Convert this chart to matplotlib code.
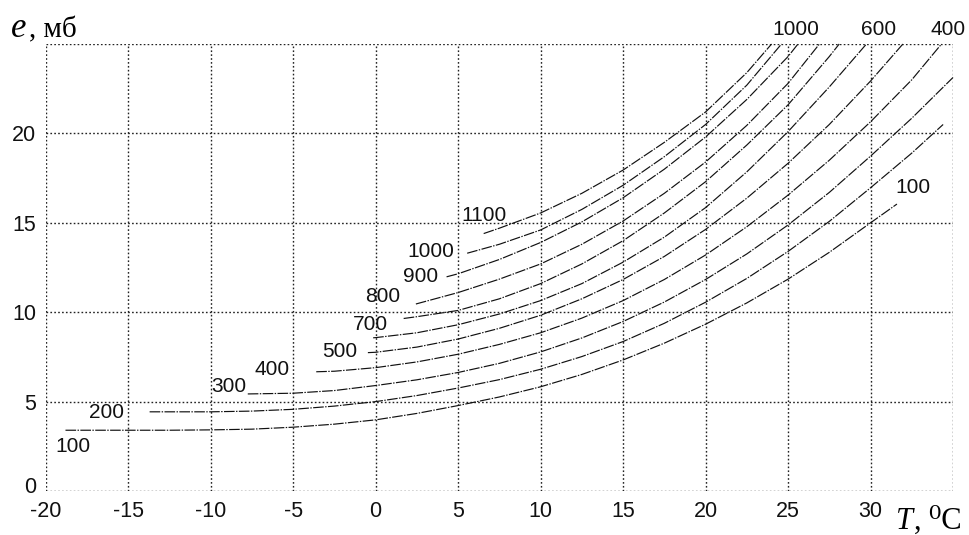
import numpy as np
import matplotlib
matplotlib.use("Agg")
import matplotlib.pyplot as plt
from matplotlib.transforms import ScaledTranslation

plt.rcParams["mathtext.fontset"] = "custom"
plt.rcParams["mathtext.it"] = "Liberation Serif:italic"
plt.rcParams["mathtext.rm"] = "Liberation Serif"

# curves e(T) for each level
levels = [100, 200, 300, 400, 500, 600, 700, 800, 900, 1000, 1100]
T_100 = [-18.8, -15, -12.5, -10, -7.5, -5, -2.5, 0, 2.5, 5, 7.5, 10, 12.5, 15,
         17.5, 20, 22.5, 25, 27.5, 30, 31.6]
e_100 = [3.40, 3.40, 3.40, 3.42, 3.46, 3.57, 3.74, 3.98, 4.34, 4.78, 5.26, 5.83,
         6.52, 7.33, 8.27, 9.33, 10.52, 11.85, 13.35, 15.0, 16.05]
T_200 = [-13.7, -12.5, -10, -7.5, -5, -2.5, 0, 2.5, 5, 7.5, 10, 12.5, 15, 17.5,
         20, 22.5, 25, 27.5, 30, 32.5, 34.4]
e_200 = [4.43, 4.43, 4.43, 4.47, 4.57, 4.75, 5.0, 5.34, 5.76, 6.23, 6.81, 7.52,
         8.36, 9.38, 10.56, 11.89, 13.4, 15.08, 16.96, 18.9, 20.5]
T_300 = [-7.75, -5, -2.5, 0, 2.5, 5, 7.5, 10, 12.5, 15, 17.5, 20, 22.5, 25,
         27.5, 30, 32.5, 35]
e_300 = [5.43, 5.47, 5.62, 5.9, 6.22, 6.63, 7.14, 7.78, 8.56, 9.48, 10.57, 11.83,
         13.26, 14.88, 16.7, 18.73, 20.85, 23.13]
T_400 = [-3.6, -2.5, 0, 2.5, 5, 7.5, 10, 12.5, 15, 17.5, 20, 22.5, 25, 27.5,
         30, 32.5, 34.3]
e_400 = [6.67, 6.70, 6.90, 7.22, 7.65, 8.20, 8.85, 9.67, 10.65, 11.83, 13.2,
         14.78, 16.55, 18.5, 20.65, 23.0, 25.0]
T_500 = [-0.47, 0, 2.5, 5, 7.5, 10, 12.5, 15, 17.5, 20, 22.5, 25, 27.5, 30, 31.96]
e_500 = [7.74, 7.76, 8.05, 8.5, 9.1, 9.83, 10.75, 11.83, 13.12, 14.63, 16.38,
         18.33, 20.5, 22.93, 25.0]
T_600 = [-0.15, 0, 2.5, 5, 7.5, 10, 12.5, 15, 17.5, 20, 22.5, 25, 27.5, 29.75]
e_600 = [8.57, 8.58, 8.85, 9.3, 9.9, 10.65, 11.6, 12.8, 14.2, 15.85, 17.85,
         20.1, 22.6, 25.0]
T_700 = [1.7, 2.5, 5, 7.5, 10, 12.5, 15, 17.5, 20, 22.5, 25, 27.5, 28.1]
e_700 = [9.65, 9.75, 10.1, 10.75, 11.6, 12.7, 14.0, 15.55, 17.3, 19.35, 21.6,
         24.3, 25.0]
T_800 = [2.44, 5, 7.5, 10, 12.5, 15, 17.5, 20, 22.5, 25, 26.9]
e_800 = [10.46, 11.1, 11.85, 12.7, 13.8, 15.1, 16.65, 18.4, 20.45, 22.8, 25.0]
T_900 = [4.3, 5, 7.5, 10, 12.5, 15, 17.5, 20, 22.5, 25, 25.6]
e_900 = [11.98, 12.15, 12.95, 13.9, 15.05, 16.4, 18.0, 19.8, 21.9, 24.3, 25.0]
T_1000 = [5.55, 7.5, 10, 12.5, 15, 17.5, 20, 22.5, 24.6]
e_1000 = [13.3, 13.8, 14.6, 15.75, 17.1, 18.7, 20.5, 22.7, 25.0]
T_1100 = [6.55, 7.5, 10, 12.5, 15, 17.5, 20, 22.5, 24.0]
e_1100 = [14.4, 14.7, 15.55, 16.65, 17.95, 19.5, 21.2, 23.4, 25.0]

curves_T = [T_100, T_200, T_300, T_400, T_500, T_600, T_700, T_800, T_900, T_1000, T_1100]
curves_e = [e_100, e_200, e_300, e_400, e_500, e_600, e_700, e_800, e_900, e_1000, e_1100]

# curve labels (text, T, e)
label_text = ["100", "200", "300", "400", "500", "700", "800", "900", "1000", "1100",
              "100", "1000", "600", "400"]
label_T = [-18.35, -16.3, -8.87, -6.3, -2.2, -0.3, 0.44, 2.74, 3.35, 6.56,
           32.6, 25.44, 30.48, 34.7]
label_e = [2.5, 4.39, 5.83, 6.78, 7.8, 9.32, 10.9, 12.0, 13.39, 15.39,
           17.0, 25.83, 25.83, 25.83]

x_ticks = [-20, -15, -10, -5, 0, 5, 10, 15, 20, 25, 30]
y_ticks = [0, 5, 10, 15, 20]

fig = plt.figure(figsize=(9.7, 5.35), dpi=100)
ax = fig.add_axes([0.0471, 0.0822, 0.9354, 0.8355])
ax.set_xlim(-20, 35)
ax.set_ylim(0, 25)

dots = (0, (1.2, 1.6))
for t in x_ticks + [35]:
    ax.axvline(t, color="#222222", lw=1.0, ls=dots, zorder=1)
for v in y_ticks + [25]:
    ax.axhline(v, color="#222222", lw=1.0, ls=dots, zorder=1)
for s in ax.spines.values():
    s.set_visible(False)

for T, e in zip(curves_T, curves_e):
    ax.plot(T, e, color="#111111", lw=0.85, ls=(0, (9, 1.2, 1.2, 1.2)),
            solid_joinstyle="round", zorder=2, clip_on=False)

for s, t, v in zip(label_text, label_T, label_e):
    ax.text(t, v, s, ha="center", va="center", fontsize=15,
            family="Liberation Sans", color="#111111", clip_on=False)

ax.set_xticks(x_ticks)
ax.set_yticks(y_ticks)
ax.set_xticklabels([str(t) for t in x_ticks], family="Liberation Sans", fontsize=15.5)
ax.set_yticklabels([str(v) for v in y_ticks], family="Liberation Sans", fontsize=15.5)
ax.tick_params(axis="both", length=0, colors="#111111")
ax.tick_params(axis="x", pad=7.5)
ax.tick_params(axis="y", pad=7)

# the "0" on the y axis sits a little above the corner
zero = ax.get_yticklabels()[0]
zero.set_transform(zero.get_transform() + ScaledTranslation(0, 4 / 72, fig.dpi_scale_trans))

fig.text(0.0103, 0.931, r"$e$", family="Liberation Serif", fontsize=25,
         va="baseline", ha="left")
fig.text(0.0299, 0.931, ", мб", family="Liberation Serif",
         fontsize=21, va="baseline", ha="left")
fig.text(0.9227, 0.012, r"$T$", family="Liberation Serif",
         fontsize=22, va="baseline", ha="left")
fig.text(0.9423, 0.012, ", ⁰C", family=["Liberation Serif", "DejaVu Serif"],
         fontsize=22, va="baseline", ha="left")

fig.savefig("out.png", dpi=100, facecolor="white")
